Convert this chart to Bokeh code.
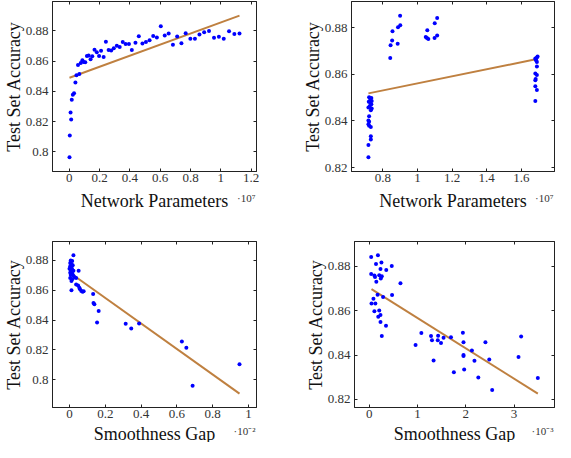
import numpy as np
from bokeh.plotting import figure
from bokeh.models import Range1d, FixedTicker, LinearAxis, Label, CustomJSTickFormatter
from bokeh.layouts import column, row
from bokeh.embed import file_html
from bokeh.resources import INLINE

# ---------------- Panel 1: accuracy vs. network parameters (x in units of 1e7)
params_1 = [0.002, 0.004, 0.009, 0.013, 0.017, 0.024, 0.032, 0.041, 0.048, 0.058,
            0.067, 0.076, 0.087, 0.095, 0.106, 0.117, 0.128, 0.141, 0.152, 0.167,
            0.182, 0.197, 0.210, 0.227, 0.242, 0.260, 0.277, 0.294, 0.314, 0.333,
            0.353, 0.372, 0.394, 0.413, 0.437, 0.459, 0.483, 0.506, 0.530, 0.554,
            0.578, 0.604, 0.630, 0.656, 0.684, 0.712, 0.740, 0.768, 0.799, 0.829,
            0.859, 0.890, 0.922, 0.955, 0.987, 1.019, 1.054, 1.089, 1.123]
acc_1 = [0.7963, 0.8107, 0.8260, 0.8214, 0.8345, 0.8378, 0.8387, 0.8459, 0.8507, 0.8575,
         0.8514, 0.8588, 0.8605, 0.8595, 0.8592, 0.8634, 0.8638, 0.8612, 0.8632, 0.8675,
         0.8658, 0.8634, 0.8669, 0.8627, 0.8728, 0.8673, 0.8671, 0.8686, 0.8702, 0.8693,
         0.8726, 0.8713, 0.8713, 0.8673, 0.8721, 0.8765, 0.8717, 0.8726, 0.8739, 0.8767,
         0.8756, 0.8831, 0.8769, 0.8783, 0.8708, 0.8763, 0.8719, 0.8785, 0.8748, 0.8748,
         0.8776, 0.8791, 0.8800, 0.8754, 0.8761, 0.8748, 0.8798, 0.8780, 0.8783]
fit_1_x = [0.002, 1.123]
fit_1_y = [0.8490, 0.8901]

# ---------------- Panel 2: accuracy vs. network parameters, second family (x in 1e7)
params_2 = [0.717, 0.717, 0.731, 0.731, 0.731, 0.721, 0.717, 0.721, 0.717, 0.721,
            0.731, 0.736, 0.717, 0.725, 0.734, 0.727, 0.736, 0.719, 0.727, 0.721, 0.734,
            0.843, 0.845, 0.854, 0.856, 0.886, 0.888, 0.901, 0.900,
            1.048, 1.057, 1.055, 1.063, 1.099, 1.100, 1.114, 1.114,
            1.681, 1.690, 1.681, 1.681, 1.683, 1.690, 1.681, 1.690, 1.681, 1.690,
            1.690, 1.683, 1.694, 1.686]
acc_2 = [0.8244, 0.8297, 0.8320, 0.8334, 0.8374, 0.8379, 0.8386, 0.8396, 0.8402, 0.8420,
         0.8446, 0.8453, 0.8457, 0.8464, 0.8471, 0.8480, 0.8485, 0.8482, 0.8495, 0.8501, 0.8498,
         0.8670, 0.8724, 0.8745, 0.8784, 0.8731, 0.8801, 0.8810, 0.8851,
         0.8760, 0.8789, 0.8755, 0.8751, 0.8755, 0.8818, 0.8766, 0.8841,
         0.8485, 0.8533, 0.8549, 0.8574, 0.8580, 0.8597, 0.8603, 0.8633, 0.8667, 0.8672,
         0.8652, 0.8663, 0.8676, 0.8659]
fit_2_x = [0.717, 1.690]
fit_2_y = [0.8518, 0.8665]

# ---------------- Panel 3: accuracy vs. smoothness gap (x in units of 1e-2)
gap_3 = [0.022, 0.007, 0.015, 0.004, 0.011, 0.018, 0.004, 0.011, 0.000, 0.015,
         0.007, 0.022, 0.051, 0.004, 0.015, 0.007, 0.022, 0.004, 0.015, 0.029,
         0.037, 0.011, 0.037, 0.048, 0.055, 0.011, 0.059, 0.066, 0.073, 0.079,
         0.132, 0.134, 0.139, 0.163, 0.154, 0.314, 0.345, 0.389, 0.628, 0.653,
         0.688, 0.950]
acc_3 = [0.8832, 0.8798, 0.8794, 0.8781, 0.8772, 0.8766, 0.8759, 0.8751, 0.8742, 0.8738,
         0.8729, 0.8729, 0.8729, 0.8716, 0.8712, 0.8701, 0.8695, 0.8680, 0.8673, 0.8686,
         0.8680, 0.8661, 0.8637, 0.8631, 0.8615, 0.8599, 0.8605, 0.8594, 0.8588, 0.8592,
         0.8573, 0.8513, 0.8505, 0.8461, 0.8384, 0.8375, 0.8343, 0.8377, 0.8257, 0.8214,
         0.7961, 0.8105]
fit_3_x = [0.024, 0.950]
fit_3_y = [0.8697, 0.7908]

# ---------------- Panel 4: accuracy vs. smoothness gap, second family (x in 1e-3)
gap_4 = [0.040, 0.180, 0.040, 0.140, 0.253, 0.467, 0.107, 0.120, 0.207, 0.233,
         0.260, 0.240, 0.353, 0.147, 0.647, 0.173, 0.473, 0.287, 0.087, 0.047,
         0.127, 0.107, 0.207, 0.233, 0.187, 0.233, 0.347, 0.260,
         0.960, 1.080, 1.280, 1.300, 1.427, 1.420, 1.487, 1.540, 1.693, 1.333,
         1.753, 1.940, 1.953, 1.953, 1.953, 1.967, 2.127, 2.180, 2.260, 2.407,
         2.487, 2.547, 3.093, 3.147, 3.493]
acc_4 = [0.8841, 0.8849, 0.8765, 0.8810, 0.8817, 0.8801, 0.8758, 0.8751, 0.8759, 0.8787,
         0.8755, 0.8745, 0.8783, 0.8730, 0.8723, 0.8671, 0.8670, 0.8661, 0.8654, 0.8632,
         0.8632, 0.8597, 0.8600, 0.8580, 0.8572, 0.8549, 0.8532, 0.8486,
         0.8445, 0.8499, 0.8486, 0.8467, 0.8487, 0.8467, 0.8454, 0.8478, 0.8480, 0.8375,
         0.8322, 0.8500, 0.8458, 0.8400, 0.8396, 0.8335, 0.8420, 0.8374, 0.8299, 0.8458,
         0.8380, 0.8243, 0.8391, 0.8483, 0.8297]
fit_4_x = [0.047, 3.493]
fit_4_y = [0.8697, 0.8226]

# ---------------- tick labels
xticks_1 = [0, 0.2, 0.4, 0.6, 0.8, 1.0, 1.2]
yticks_1 = [0.80, 0.82, 0.84, 0.86, 0.88]
xticks_2 = [0.8, 1.0, 1.2, 1.4, 1.6]
yticks_2 = [0.82, 0.84, 0.86, 0.88]
xticks_3 = [0, 0.2, 0.4, 0.6, 0.8, 1.0]
yticks_3 = [0.80, 0.82, 0.84, 0.86, 0.88]
xticks_4 = [0, 1, 2, 3]
yticks_4 = [0.82, 0.84, 0.86, 0.88]

FONT = "Liberation Serif"
DOT = "#0000ff"
FIT = "#bf8040"
AX = "#222222"
fmt_code = "return String(Number(tick.toFixed(3)));"


def enlarged(vals, frac=0.1):
    lo, hi = min(vals), max(vals)
    pad = (hi - lo) * frac
    return lo - pad, hi + pad


def panel(x, y, fx, fy, xt, yt, xlabel, exponent, width, height, mb,
          title_side, exp_side, title_dy):
    x0, x1 = enlarged(list(x) + list(fx))
    y0, y1 = enlarged(list(y) + list(fy))
    p = figure(width=width, height=height, output_backend="svg", toolbar_location=None,
               x_range=Range1d(x0, x1), y_range=Range1d(y0, y1),
               min_border_left=mb[0], min_border_right=mb[1],
               min_border_top=mb[2], min_border_bottom=mb[3],
               background_fill_color="white", border_fill_color="white")
    p.grid.visible = False
    p.outline_line_color = AX
    p.outline_line_width = 1
    p.line(fx, fy, line_color=FIT, line_width=2)
    p.scatter(x, y, size=4, fill_color=DOT, line_color=None)

    for ax, ticks in ((p.xaxis[0], xt), (p.yaxis[0], yt)):
        ax.ticker = FixedTicker(ticks=ticks)
        ax.formatter = CustomJSTickFormatter(code=fmt_code)
        ax.major_tick_in = 3
        ax.major_tick_out = 0
        ax.minor_tick_line_color = None
        ax.axis_line_color = AX
        ax.major_tick_line_color = AX
        ax.major_label_text_font = FONT
        ax.major_label_text_font_size = "13px"
        ax.major_label_text_color = "#333333"
        ax.major_label_standoff = 2
        ax.axis_label_text_font = FONT
        ax.axis_label_text_font_size = "18px"
        ax.axis_label_text_font_style = "normal"
        ax.axis_label_text_color = "#111111"
        ax.axis_label_standoff = -1
    p.yaxis[0].major_label_standoff = 4
    p.yaxis[0].axis_label = "Test Set Accuracy"

    for side, ticks in (("above", xt), ("right", yt)):
        m = LinearAxis(ticker=FixedTicker(ticks=ticks), major_tick_in=3, major_tick_out=0,
                       minor_tick_line_color=None, axis_line_color=AX,
                       major_tick_line_color=AX, major_label_text_font_size="0px",
                       major_label_standoff=0)
        p.add_layout(m, side)

    # x-axis title, centred under the frame (hosted in a side panel with spare room,
    # so it is drawn outside the frame without being clipped)
    p.add_layout(Label(x=(x0 + x1) / 2, y=y0, text=xlabel, text_font=FONT,
                       text_font_size="18px", text_color="#111111", text_align="center",
                       text_baseline="middle", y_offset=title_dy), title_side)
    # scale factor note (pgfplots style "·10^k") under the right end of the x axis
    p.add_layout(Label(x=x1, y=y0, text=exponent, text_font=FONT, text_font_size="11px",
                       text_color="#333333", text_align="right", text_baseline="middle",
                       x_offset=-1, y_offset=title_dy + 3), exp_side)
    return p


p1 = panel(params_1, acc_1, fit_1_x, fit_1_y, xticks_1, yticks_1,
           "Network Parameters", "·10⁷", 280, 214, (49, 24, 1, 43), "below", "right", -29)
p2 = panel(params_2, acc_2, fit_2_x, fit_2_y, xticks_2, yticks_2,
           "Network Parameters", "·10⁷", 275, 214, (71, 1, 1, 43), "below", "left", -29)
p3 = panel(gap_3, acc_3, fit_3_x, fit_3_y, xticks_3, yticks_3,
           "Smoothness Gap", "·10⁻²", 280, 228, (49, 24, 20, 35), "above", "right", -26)
p4 = panel(gap_4, acc_4, fit_4_x, fit_4_y, xticks_4, yticks_4,
           "Smoothness Gap", "·10⁻³", 275, 228, (71, 1, 27, 35), "above", "left", -26)

layout = column(row(p1, p2), row(p3, p4))
open("out.html", "w").write(file_html(layout, INLINE))
